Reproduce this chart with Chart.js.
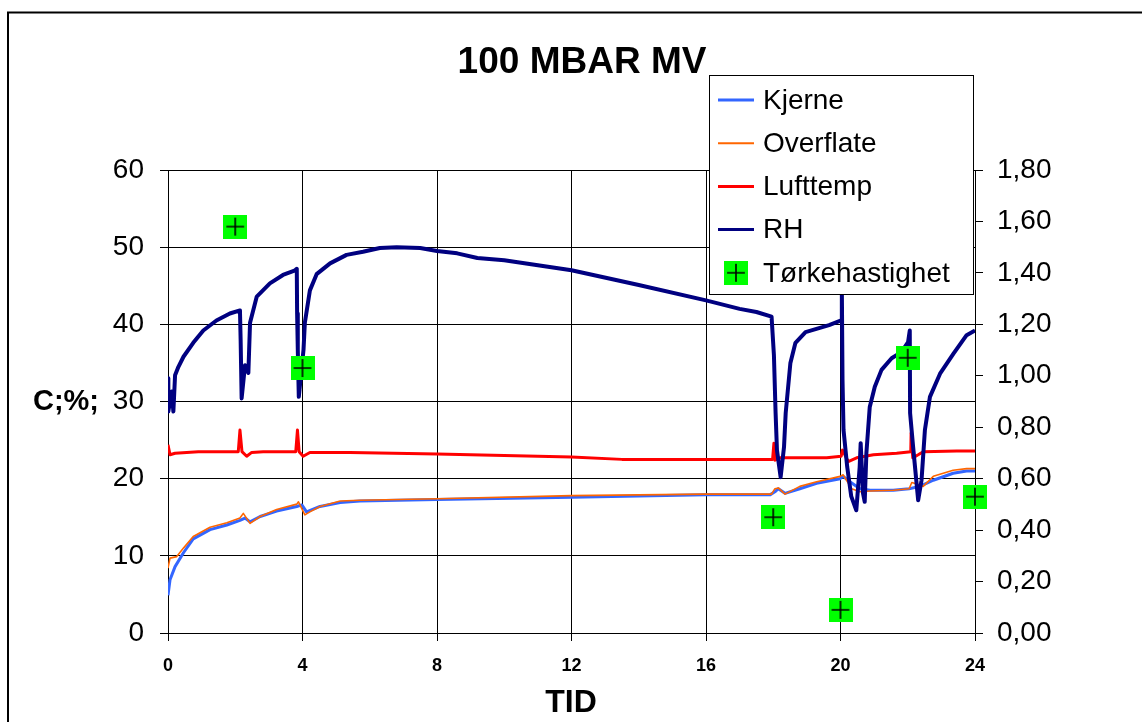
<!DOCTYPE html>
<html>
<head>
<meta charset="utf-8">
<script src="https://cdn.jsdelivr.net/npm/chart.js@4.4.1/dist/chart.umd.min.js"></script>
<style>
html, body { margin: 0; padding: 0; background: #fff; }
canvas { display: block; }
</style>
</head>
<body>
<canvas id="c" width="1142" height="722"></canvas>
<script>
// --- DATA ---
const xTicks = [0, 4, 8, 12, 16, 20, 24];
const leftTicks = [0, 10, 20, 30, 40, 50, 60];
const rightTicks = [0, 0.2, 0.4, 0.6, 0.8, 1.0, 1.2, 1.4, 1.6, 1.8];

const kjerneTid = [0, 0.06, 0.21, 0.46, 0.75, 1.25, 1.75, 2.14, 2.29, 2.44, 2.74, 3.23, 3.83, 3.98, 4.12, 4.52, 5.12, 5.71, 8, 12, 16, 17.9, 18.05, 18.15, 18.35, 18.79, 19.29, 19.99, 20.08, 20.28, 20.58, 20.88, 21.57, 22.04, 22.36, 22.76, 23.35, 23.75, 24];
const kjerne = [4.9, 6.9, 8.6, 10.4, 12.2, 13.4, 14.0, 14.6, 14.9, 14.4, 15.1, 15.8, 16.4, 16.6, 15.7, 16.4, 16.9, 17.1, 17.3, 17.6, 17.9, 17.9, 18.3, 18.7, 18.1, 18.7, 19.4, 20.0, 20.3, 19.6, 18.7, 18.5, 18.5, 18.7, 19.0, 19.8, 20.7, 21.0, 21.0];

const overflateTid = [0, 0.06, 0.26, 0.46, 0.75, 1.25, 1.75, 2.14, 2.24, 2.44, 2.74, 3.23, 3.83, 3.88, 4.07, 4.22, 4.52, 5.12, 5.71, 8, 12, 16, 17.95, 18.05, 18.15, 18.35, 18.79, 19.29, 19.99, 20.08, 20.33, 20.58, 20.88, 21.57, 22.04, 22.12, 22.27, 22.46, 22.76, 23.35, 23.75, 24];
const overflate = [8.4, 9.7, 9.9, 11.0, 12.5, 13.7, 14.3, 14.9, 15.5, 14.2, 15.1, 16.0, 16.7, 17.0, 15.3, 15.7, 16.4, 17.1, 17.2, 17.4, 17.8, 18.0, 18.0, 18.7, 18.8, 18.0, 19.0, 19.6, 20.3, 20.5, 18.7, 18.3, 18.4, 18.5, 18.7, 19.5, 19.3, 19.0, 20.3, 21.1, 21.3, 21.3];

const luftTid = [0, 0.06, 0.21, 0.9, 2.09, 2.14, 2.20, 2.34, 2.49, 2.83, 3.80, 3.85, 3.90, 4.02, 4.22, 5.41, 8, 10, 12, 13.5, 16, 17.98, 18.02, 18.05, 18.20, 19.59, 20.02, 20.06, 20.23, 20.48, 20.98, 21.67, 22.09, 22.10, 22.15, 22.31, 22.46, 23.46, 24];
const lufttemp = [24.4, 23.1, 23.3, 23.5, 23.5, 26.3, 23.5, 22.9, 23.4, 23.5, 23.5, 26.3, 23.5, 22.9, 23.4, 23.4, 23.2, 23.0, 22.8, 22.5, 22.5, 22.5, 24.6, 22.4, 22.7, 22.7, 22.9, 23.7, 22.2, 22.7, 23.1, 23.3, 23.5, 25.9, 22.7, 23.1, 23.5, 23.6, 23.6];

const rhTid = [0, 0.01, 0.11, 0.16, 0.21, 0.31, 0.46, 0.75, 1.05, 1.44, 1.84, 2.14, 2.16, 2.19, 2.29, 2.39, 2.44, 2.64, 3.03, 3.42, 3.78, 3.83, 3.84, 3.86, 3.89, 4.03, 4.07, 4.22, 4.42, 4.82, 5.31, 5.80, 6.30, 6.80, 7.5, 8.0, 8.6, 9.2, 10, 12, 14, 16, 17, 17.5, 17.95, 18.02, 18.07, 18.11, 18.22, 18.32, 18.37, 18.51, 18.66, 18.96, 19.36, 19.66, 20.02, 20.04, 20.06, 20.09, 20.20, 20.32, 20.47, 20.57, 20.60, 20.67, 20.72, 20.77, 20.87, 21.02, 21.22, 21.52, 21.81, 22.01, 22.06, 22.07, 22.16, 22.31, 22.41, 22.51, 22.66, 22.96, 23.36, 23.75, 24];
const rh = [33.0, 28.7, 31.3, 28.7, 33.4, 34.5, 35.8, 37.6, 39.2, 40.5, 41.4, 41.8, 38.0, 30.4, 34.7, 33.7, 40.2, 43.6, 45.3, 46.4, 47.0, 47.2, 41.4, 36.7, 30.6, 36.7, 40.2, 44.4, 46.5, 47.9, 49.0, 49.4, 49.9, 50.0, 49.9, 49.5, 49.2, 48.6, 48.3, 47.0, 45.1, 43.1, 42.0, 41.6, 41.0, 36.0, 28.5, 23.7, 20.2, 24.1, 28.5, 35.0, 37.6, 39.0, 39.5, 39.9, 40.5, 44.5, 32.8, 26.3, 21.5, 17.7, 15.9, 21.5, 24.6, 18.1, 17.0, 23.3, 29.3, 31.9, 34.1, 35.6, 36.4, 37.7, 39.2, 28.5, 24.1, 17.2, 19.8, 26.3, 30.6, 33.6, 36.2, 38.6, 39.2];

const torkeTid = [2, 4, 18, 20, 22, 24];
const torke = [1.58, 1.03, 0.45, 0.09, 1.07, 0.53];

const FONT = "'Liberation Sans', Arial, sans-serif";

function pts(xs, ys) { return xs.map((x, i) => ({ x: x, y: ys[i] })); }

// green square with black cross
function makeMarker(size) {
  const c = document.createElement('canvas');
  c.width = c.height = size;
  const g = c.getContext('2d');
  g.fillStyle = '#00FF00';
  g.fillRect(0, 0, size, size);
  g.strokeStyle = '#000';
  g.lineWidth = 1.6;
  const m = size / 2, a = size * 0.37;
  g.beginPath();
  g.moveTo(m - a, m); g.lineTo(m + a, m);
  g.moveTo(m, m - a); g.lineTo(m, m + a);
  g.stroke();
  return c;
}
const marker = makeMarker(24);

const series = [
  { label: 'Kjerne', color: '#3366FF', width: 3 },
  { label: 'Overflate', color: '#FF6600', width: 1.6 },
  { label: 'Lufttemp', color: '#FF0000', width: 3 },
  { label: 'RH', color: '#000080', width: 3 },
  { label: 'Tørkehastighet', marker: true }
];

// --- decorations: frame, titles, legend ---
const deco = {
  id: 'deco',
  beforeDraw(chart) {
    const ctx = chart.ctx;
    ctx.save();
    ctx.fillStyle = '#fff';
    ctx.fillRect(0, 0, chart.width, chart.height);
    ctx.strokeStyle = '#000';
    ctx.lineWidth = 2;
    ctx.strokeRect(8, 12.5, 1200, 800);
    ctx.restore();
  },
  afterDraw(chart) {
    const ctx = chart.ctx;
    ctx.save();
    ctx.fillStyle = '#000';
    ctx.textAlign = 'center';
    ctx.textBaseline = 'middle';
    ctx.font = 'bold 37px ' + FONT;
    ctx.fillText('100 MBAR MV', 582, 63);
    ctx.font = 'bold 32px ' + FONT;
    ctx.fillText('TID', 571, 703);
    ctx.font = 'bold 29px ' + FONT;
    ctx.fillText('C;%;', 66, 402);

    // legend box
    const lx = 709.5, ly = 75.5, lw = 264, lh = 219;
    ctx.fillStyle = '#fff';
    ctx.fillRect(lx, ly, lw, lh);
    ctx.strokeStyle = '#000';
    ctx.lineWidth = 1;
    ctx.strokeRect(lx, ly, lw, lh);
    ctx.font = '28px ' + FONT;
    ctx.textAlign = 'left';
    series.forEach((s, i) => {
      const y = 100 + i * 43.2;
      if (s.marker) {
        ctx.drawImage(marker, 736 - 12, y - 12);
      } else {
        ctx.strokeStyle = s.color;
        ctx.lineWidth = Math.max(2, s.width);
        ctx.beginPath();
        ctx.moveTo(718, y);
        ctx.lineTo(754, y);
        ctx.stroke();
      }
      ctx.fillStyle = '#000';
      ctx.fillText(s.label, 763, y + 1);
    });
    ctx.restore();
  }
};

function setTicks(arr) {
  return function (scale) { scale.ticks = arr.map(v => ({ value: v })); };
}

new Chart(document.getElementById('c'), {
  type: 'line',
  data: {
    datasets: [
      { label: 'Tørkehastighet', data: pts(torkeTid, torke), yAxisID: 'y1', showLine: false,
        pointStyle: marker, pointRadius: 12, pointHoverRadius: 12, clip: false, order: 0 },
      { label: 'RH', data: pts(rhTid, rh), borderColor: '#000080', borderWidth: 4, order: 1 },
      { label: 'Lufttemp', data: pts(luftTid, lufttemp), borderColor: '#FF0000', borderWidth: 3, order: 2 },
      { label: 'Overflate', data: pts(overflateTid, overflate), borderColor: '#FF6600', borderWidth: 1.6, order: 3 },
      { label: 'Kjerne', data: pts(kjerneTid, kjerne), borderColor: '#3366FF', borderWidth: 3, order: 4 }
    ]
  },
  options: {
    responsive: false,
    animation: false,
    devicePixelRatio: 1,
    elements: { point: { radius: 0 }, line: { tension: 0, borderJoinStyle: 'round' } },
    layout: { padding: { top: 170, left: 0, right: 0, bottom: 0 } },
    plugins: { legend: { display: false }, title: { display: false }, tooltip: { enabled: false } },
    scales: {
      x: {
        type: 'linear', min: 0, max: 24,
        afterBuildTicks: setTicks(xTicks),
        afterFit: s => { s.height = 89; },
        grid: { color: '#000', lineWidth: 1, tickLength: 8 },
        border: { color: '#000', width: 1 },
        ticks: { color: '#000', font: { family: FONT, size: 18, weight: 'bold' }, padding: 14, maxRotation: 0 }
      },
      y: {
        position: 'left', min: 0, max: 60,
        afterBuildTicks: setTicks(leftTicks),
        afterFit: s => { s.width = 168; },
        grid: { color: '#000', lineWidth: 1, tickLength: 8 },
        border: { color: '#000', width: 1 },
        ticks: { color: '#000', font: { family: FONT, size: 28 }, padding: 16 }
      },
      y1: {
        position: 'right', min: 0, max: 1.8,
        afterBuildTicks: setTicks(rightTicks),
        afterFit: s => { s.width = 167; },
        grid: { drawOnChartArea: false, color: '#000', lineWidth: 1, tickLength: 8 },
        border: { color: '#000', width: 1 },
        ticks: { color: '#000', font: { family: FONT, size: 28 }, padding: 14,
          callback: v => v.toFixed(2).replace('.', ',') }
      }
    }
  },
  plugins: [deco]
});
</script>
</body>
</html>
